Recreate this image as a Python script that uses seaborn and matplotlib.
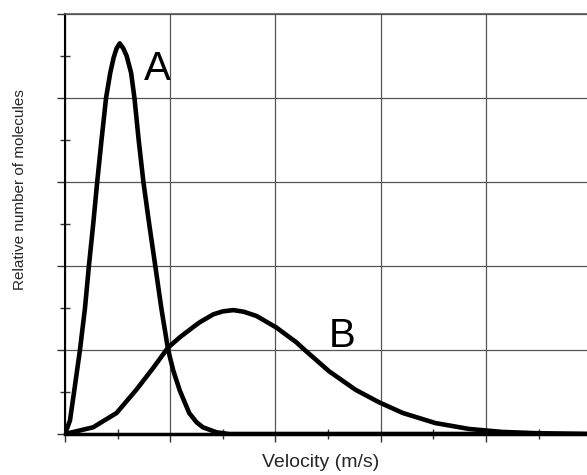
import numpy as np
import pandas as pd
import matplotlib
matplotlib.use('Agg')
import matplotlib.pyplot as plt
from matplotlib.ticker import MultipleLocator, NullFormatter
import seaborn as sb

# curve A
vel_a = [0.0, 0.047, 0.085, 0.142, 0.19, 0.227, 0.268, 0.306, 0.347, 0.39, 0.43,
         0.462, 0.49, 0.52, 0.554, 0.586, 0.628, 0.66, 0.70, 0.745, 0.80, 0.858,
         0.915, 0.98, 1.03, 1.09, 1.18, 1.25, 1.31, 1.44, 1.56, 2.5, 4.96]
num_a = [0.0, 0.16, 0.49, 1.0, 1.5, 2.0, 2.5, 3.0, 3.5, 4.0, 4.30,
         4.48, 4.59, 4.65, 4.59, 4.50, 4.30, 4.0, 3.5, 3.0, 2.5, 2.0,
         1.5, 1.0, 0.75, 0.52, 0.25, 0.14, 0.08, 0.02, 0.0, 0.0, 0.0]

# curve B
vel_b = [0.0, 0.268, 0.49, 0.68, 0.84, 0.98, 1.09, 1.215, 1.28, 1.41, 1.5,
         1.6, 1.7, 1.82, 2.01, 2.2, 2.26, 2.51, 2.76, 2.98, 3.21, 3.52, 3.84,
         4.15, 4.47, 4.96]
num_b = [0.0, 0.08, 0.25, 0.53, 0.79, 1.03, 1.15, 1.27, 1.33, 1.425, 1.46,
         1.475, 1.455, 1.405, 1.266, 1.09, 1.02, 0.746, 0.527, 0.38, 0.25, 0.13, 0.06,
         0.025, 0.01, 0.0]

labels = ['A', 'B']
label_pos = [(0.88, 4.34), (2.63, 1.17)]

sb.set_style('white')
plt.rcParams['font.family'] = ['Liberation Sans', 'DejaVu Sans']

fig = plt.figure(figsize=(5.87, 4.75), dpi=100)
ax = fig.add_axes([65 / 587, 41 / 475, 522 / 587, 420 / 475])

df_a = pd.DataFrame({'v': vel_a, 'n': num_a})
df_b = pd.DataFrame({'v': vel_b, 'n': num_b})
for d in (df_a, df_b):
    sb.lineplot(data=d, x='v', y='n', color='black', linewidth=3.3, ax=ax, zorder=5,
                solid_joinstyle='round', solid_capstyle='round')

for lab, (x, y) in zip(labels, label_pos):
    ax.text(x, y, lab, fontsize=29, ha='center', va='center', color='black')

ax.set_xlim(0, 4.96)
ax.set_ylim(0, 5)
ax.xaxis.set_major_locator(MultipleLocator(1))
ax.xaxis.set_minor_locator(MultipleLocator(0.5))
ax.yaxis.set_major_locator(MultipleLocator(1))
ax.yaxis.set_minor_locator(MultipleLocator(0.5))
ax.xaxis.set_major_formatter(NullFormatter())
ax.yaxis.set_major_formatter(NullFormatter())
ax.grid(True, which='major', color='#555555', linewidth=0.9)
ax.tick_params(which='major', direction='out', length=6, width=1, colors='#333333',
               bottom=True, left=True)
ax.tick_params(which='minor', direction='inout', length=7, width=1, colors='#333333',
               bottom=True, left=True)

ax.spines['right'].set_visible(False)
ax.spines['top'].set_color('#555555')
ax.spines['top'].set_linewidth(1.2)
ax.spines['left'].set_color('black')
ax.spines['left'].set_linewidth(1.5)
ax.spines['bottom'].set_color('black')
ax.spines['bottom'].set_linewidth(2.5)

ax.set_xlabel('Velocity (m/s)', fontsize=14)
ax.set_ylabel('Relative number of molecules', fontsize=11)
ax.xaxis.set_label_coords(0.49, -0.048)
ax.yaxis.set_label_coords(-0.073, 0.583)

fig.savefig('out.png', dpi=100)
